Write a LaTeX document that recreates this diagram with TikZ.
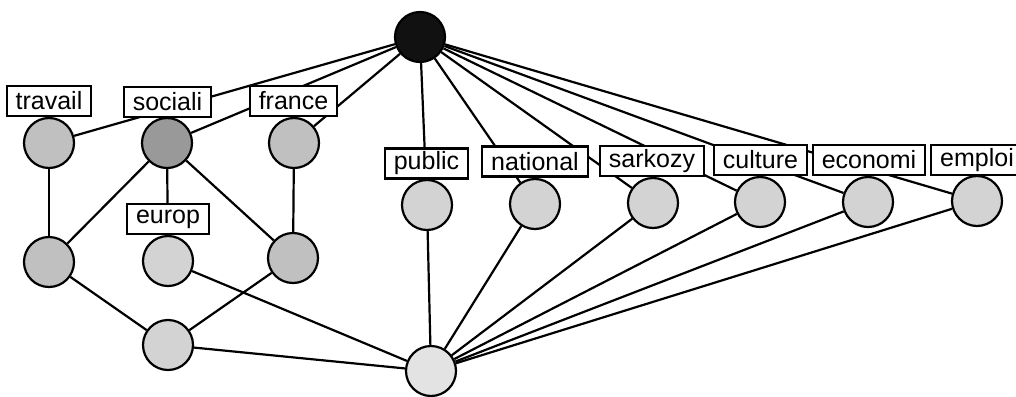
\documentclass[tikz,border=0pt]{standalone}
\usepackage{fontspec}
\setmainfont{Liberation Sans}
\definecolor{cblack}{HTML}{111111}
\definecolor{cdark}{HTML}{999999}
\definecolor{cmid}{HTML}{C0C0C0}
\definecolor{clight}{HTML}{D3D3D3}
\definecolor{cpale}{HTML}{E3E3E3}
\begin{document}
\begin{tikzpicture}[x=1pt,y=-1pt,
  vertex/.style={circle,draw=black,line width=2.2pt,minimum size=50pt,inner sep=0pt},
  tag/.style={draw=black,fill=white,line width=2.2pt,inner xsep=9pt,inner ysep=0pt,
    minimum height=30pt,font=\fontsize{25}{30}\selectfont},
  link/.style={line width=2.2pt}]
\useasboundingbox (0,0) rectangle (1016,396);
% vertices
\node[vertex,fill=cblack] (top) at (420,37) {};
\node[vertex,fill=cmid]   (trav) at (49,143) {};
\node[vertex,fill=cdark]  (soc)  at (167,143) {};
\node[vertex,fill=cmid]   (fra)  at (294,143) {};
\node[vertex,fill=cmid]   (lmid) at (49,262) {};
\node[vertex,fill=clight] (eur)  at (168,261) {};
\node[vertex,fill=cmid]   (rmid) at (293,258) {};
\node[vertex,fill=clight] (blow) at (168,345) {};
\node[vertex,fill=cpale]  (bot)  at (431,371) {};
\node[vertex,fill=clight] (pub)  at (427,205) {};
\node[vertex,fill=clight] (nat)  at (535,204) {};
\node[vertex,fill=clight] (sar)  at (653,203) {};
\node[vertex,fill=clight] (cul)  at (760,202) {};
\node[vertex,fill=clight] (eco)  at (868,202) {};
\node[vertex,fill=clight] (emp)  at (977,201) {};
% edges
\foreach \t in {trav,soc,fra,pub,nat,sar,cul,eco,emp}
  \draw[link] (top) -- (\t);
\draw[link] (trav) -- (lmid);
\draw[link] (soc) -- (lmid);
\draw[link] (soc) -- (eur);
\draw[link] (soc) -- (rmid);
\draw[link] (fra) -- (rmid);
\draw[link] (lmid) -- (blow);
\draw[link] (rmid) -- (blow);
\foreach \s in {blow,eur,pub,nat,sar,cul,eco,emp}
  \draw[link] (\s) -- (bot);
% labels
\node[tag] (ltrav) at (49,101) {travail};
\node[tag] (lsoc)  at (167.5,102) {sociali};
\node[tag] (lfra)  at (293.5,101) {france};
\node[tag] (leur)  at (168,219) {europ};
\node[tag] (lpub)  at (426.5,163.5) {public};
\node[tag] (lnat)  at (535,161.5) {national};
\node[tag] (lsar)  at (652,161) {sarkozy};
\node[tag] (lcul)  at (760.5,160) {culture};
\node[tag] (leco)  at (869,160) {economi};
\node[tag] (lemp)  at (977,160) {emploi};
\end{tikzpicture}
\end{document}
